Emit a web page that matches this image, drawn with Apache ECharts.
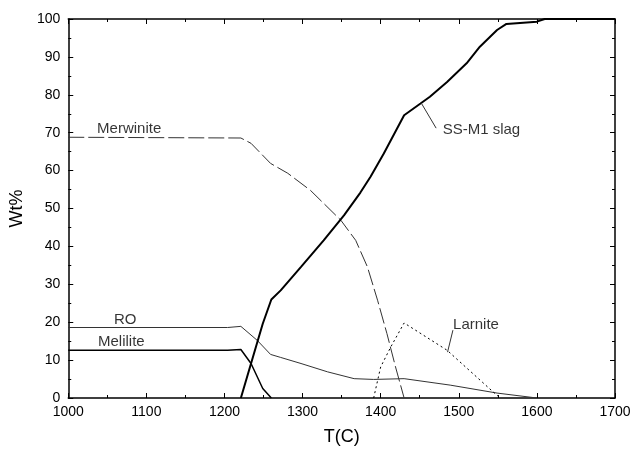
<!DOCTYPE html>
<html>
<head>
<meta charset="utf-8">
<script src="https://cdn.jsdelivr.net/npm/echarts@6/dist/echarts.min.js"></script>
<style>
  html, body { margin: 0; padding: 0; background: #fff; }
  #main { width: 644px; height: 451px; }
</style>
</head>
<body>
<div id="main"></div>
<script>
// temperature (C) / wt%
const merwT = [1000, 1221, 1234, 1259, 1281, 1310, 1349, 1368, 1383, 1396, 1408, 1419, 1430]
const merwW = [68.8, 68.6, 67.2, 61.9, 59.3, 54.8, 46.9, 41.6, 34.6, 25.8, 17.0, 8.2, 0]

const slagT = [1221, 1249, 1260, 1272, 1298, 1327, 1353, 1374, 1387, 1404, 1430, 1451, 1463, 1485, 1510, 1527, 1549, 1561, 1600, 1610, 1700]
const slagW = [0, 19.6, 26.0, 28.4, 34.6, 41.6, 48.2, 54.2, 58.4, 64.5, 74.6, 77.7, 79.5, 83.4, 88.3, 92.7, 97.1, 98.7, 99.3, 100, 100]

const roT = [1000, 1204, 1221, 1242, 1259, 1272, 1298, 1332, 1366, 1391, 1430, 1489, 1549, 1600]
const roW = [18.6, 18.6, 18.9, 15.2, 11.5, 10.7, 9.1, 6.9, 5.1, 4.9, 5.1, 3.4, 1.3, 0]

const melT = [1000, 1204, 1221, 1234, 1249, 1260]
const melW = [12.6, 12.6, 12.8, 9.1, 2.5, 0]

const larT = [1391, 1400, 1413, 1430, 1485, 1544, 1553]
const larW = [0, 8.2, 13.5, 19.8, 12.6, 1.6, 0]

// label anchors and leader lines (data coords)
const labelNames = ['Merwinite', 'RO', 'Melilite', 'SS-M1 slag', 'Larnite']
const labelT = [1078, 1073, 1068, 1529, 1522]
const labelW = [70.9, 20.5, 14.7, 70.7, 19.2]
const slagLeaderT = [1452, 1471]
const slagLeaderW = [77.8, 71.2]
const larLeaderT = [1492.5, 1485.6]
const larLeaderW = [17.9, 12.1]

const xTicks = [1000, 1700, 100]
const yTicks = [0, 100, 10]

const pairs = (xs, ys) => xs.map((x, i) => [x, ys[i]])
const font = 'Liberation Sans, Arial, sans-serif'

let myChart = echarts.init(document.getElementById('main'))

const tickStyle = { inside: true, length: 5, lineStyle: { color: '#000', width: 1 } }
const minorStyle = { show: true, splitNumber: 2, length: 3, lineStyle: { color: '#000', width: 1 } }
const axisLine = { show: true, onZero: false, lineStyle: { color: '#000', width: 1.5 } }

myChart.setOption({
  animation: false,
  grid: { left: 67, top: 19, right: 29, bottom: 53 },
  xAxis: [
    {
      type: 'value', min: xTicks[0], max: xTicks[1], interval: xTicks[2],
      name: 'T(C)', nameLocation: 'middle', nameGap: 30,
      nameTextStyle: { fontFamily: font, fontSize: 18, color: '#000' },
      axisLine: axisLine, axisTick: tickStyle, minorTick: minorStyle,
      splitLine: { show: false },
      axisLabel: { fontFamily: font, fontSize: 14, color: '#000', margin: 7, formatter: v => String(v) }
    },
    {
      type: 'value', position: 'top', min: xTicks[0], max: xTicks[1], interval: xTicks[2],
      axisLine: axisLine, axisTick: tickStyle, minorTick: minorStyle,
      splitLine: { show: false }, axisLabel: { show: false }
    }
  ],
  yAxis: [
    {
      type: 'value', min: yTicks[0], max: yTicks[1], interval: yTicks[2],
      name: 'Wt%', nameLocation: 'middle', nameGap: 33,
      nameTextStyle: { fontFamily: font, fontSize: 18, color: '#000' },
      axisLine: axisLine, axisTick: tickStyle, minorTick: minorStyle,
      splitLine: { show: false },
      axisLabel: { fontFamily: font, fontSize: 14, color: '#000', margin: 8 }
    },
    {
      type: 'value', position: 'right', min: yTicks[0], max: yTicks[1], interval: yTicks[2],
      axisLine: axisLine, axisTick: tickStyle, minorTick: minorStyle,
      splitLine: { show: false }, axisLabel: { show: false }
    }
  ],
  series: [
    {
      name: 'Merwinite', type: 'line', symbol: 'none',
      data: pairs(merwT, merwW),
      lineStyle: { color: '#333', width: 1, type: [16, 4] }
    },
    {
      name: 'RO', type: 'line', symbol: 'none',
      data: pairs(roT, roW),
      lineStyle: { color: '#333', width: 1 }
    },
    {
      name: 'Melilite', type: 'line', symbol: 'none',
      data: pairs(melT, melW),
      lineStyle: { color: '#000', width: 1.5 }
    },
    {
      name: 'Larnite', type: 'line', symbol: 'none',
      data: pairs(larT, larW),
      lineStyle: { color: '#000', width: 1, type: [2, 3] }
    },
    {
      name: 'SS-M1 slag', type: 'line', symbol: 'none',
      data: pairs(slagT, slagW),
      lineStyle: { color: '#000', width: 2 }
    },
    {
      name: 'slag leader', type: 'line', symbol: 'none',
      data: pairs(slagLeaderT, slagLeaderW),
      lineStyle: { color: '#333', width: 1 }
    },
    {
      name: 'larnite leader', type: 'line', symbol: 'none',
      data: pairs(larLeaderT, larLeaderW),
      lineStyle: { color: '#333', width: 1 }
    },
    {
      name: 'labels', type: 'scatter', symbolSize: 0,
      data: labelNames.map((n, i) => ({ name: n, value: [labelT[i], labelW[i]] })),
      label: {
        show: true, position: 'inside', formatter: p => p.name,
        fontFamily: font, fontSize: 15, color: '#000'
      },
      emphasis: { disabled: true }
    }
  ]
})
</script>
</body>
</html>
